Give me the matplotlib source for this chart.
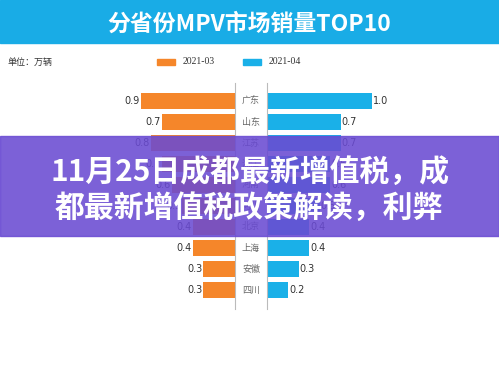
import matplotlib
matplotlib.use("Agg")
import matplotlib.pyplot as plt
from matplotlib.patches import Rectangle

plt.rcParams['font.family'] = ['Noto Sans CJK SC', 'DejaVu Sans']

# data (万辆)
provinces = ['广东', '山东', '江苏', '浙江', '河南', '河北', '北京', '上海', '安徽', '四川']
sales_mar = [0.9, 0.7, 0.8, 0.7, 0.6, 0.5, 0.4, 0.4, 0.3, 0.3]
sales_apr = [1.0, 0.7, 0.7, 0.6, 0.6, 0.5, 0.4, 0.4, 0.3, 0.2]
legend_labels = ['2021-03', '2021-04']
title = '分省份MPV市场销量TOP10'
unit_text = '单位：万辆'
banner_lines = ['11月25日成都最新增值税，成', '都最新增值税政策解读，利弊']

orange = '#f5862a'
blue = '#1ab0e8'

W, H = 499, 374
fig = plt.figure(figsize=(W / 100, H / 100), dpi=100)
fig.patch.set_facecolor('white')

def fx(px):
    return px / W

def fy(py):
    return 1 - py / H

# title band
fig.patches.append(Rectangle((0, fy(43)), 1, 43 / H, transform=fig.transFigure,
                             color='#19ace6', zorder=0))
fig.text(0.5, fy(24), title, color='white', fontsize=16.5, fontweight='bold',
         ha='center', va='center')

# unit and legend
fig.text(fx(7), fy(62), unit_text, fontsize=6.5, color='#333333', va='center')
for px, col, lab in [(157, orange, legend_labels[0]), (243, blue, legend_labels[1])]:
    fig.patches.append(Rectangle((fx(px), fy(65)), 18 / W, 6 / H,
                                 transform=fig.transFigure, color=col))
    fig.text(fx(px + 26), fy(62), lab, fontsize=7, family='Liberation Serif',
             color='#333333', va='center')

# axes geometry (pixels)
top, bottom = 83, 309
row0, step = 101, 21
ylim = ((bottom - row0) / step, (top - row0) / step)
ax_b = fy(bottom)
ax_h = (bottom - top) / H
scale = 105  # px per unit

axL = fig.add_axes([fx(25), ax_b, 210 / W, ax_h])
axR = fig.add_axes([fx(267), ax_b, 210 / W, ax_h])

ys = list(range(len(provinces)))
axL.barh(ys, sales_mar, height=0.8, color=orange)
axR.barh(ys, sales_apr, height=0.8, color=blue)
axL.set_xlim(210 / scale, 0)
axR.set_xlim(0, 210 / scale)

for ax in (axL, axR):
    ax.set_ylim(*ylim)
    ax.set_xticks([])
    ax.set_yticks([])
    for s in ax.spines.values():
        s.set_visible(False)
    ax.patch.set_alpha(0)
axL.spines['right'].set_visible(True)
axL.spines['right'].set_color('#bbbbbb')
axR.spines['left'].set_visible(True)
axR.spines['left'].set_color('#bbbbbb')

for y, v in zip(ys, sales_mar):
    axL.text(v + 0.01, y, f'{v:.1f}', ha='right', va='center', fontsize=7,
             color='#333333', family='DejaVu Sans')
for y, v in zip(ys, sales_apr):
    axR.text(v + 0.01, y, f'{v:.1f}', ha='left', va='center', fontsize=7,
             color='#333333', family='DejaVu Sans')
for y, p in zip(ys, provinces):
    fig.text(fx(251), fy(row0 + step * y), p, ha='center', va='center',
             fontsize=6.5, color='#666666')

# overlay banner
fig.patches.append(Rectangle((0, fy(236)), 1, 100 / H, transform=fig.transFigure,
                             color='#6a4bd2', alpha=0.88, zorder=5))
fig.text(0.502, fy(172), banner_lines[0], color='white', fontsize=21.5,
         fontweight='bold', ha='center', va='center', zorder=6)
fig.text(0.499, fy(208), banner_lines[1], color='white', fontsize=21.5,
         fontweight='bold', ha='center', va='center', zorder=6)

fig.savefig('out.png', dpi=100)
